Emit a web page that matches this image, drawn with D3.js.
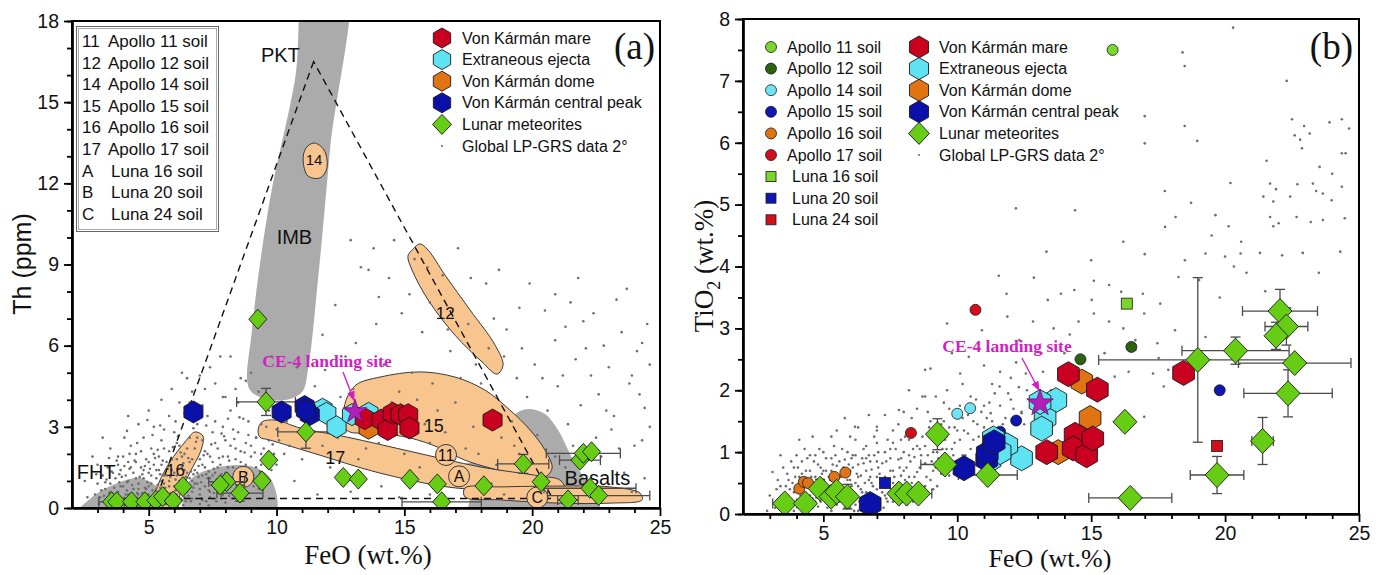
<!DOCTYPE html>
<html>
<head>
<meta charset="utf-8">
<script src="https://cdn.jsdelivr.net/npm/d3@7"></script>
<style>
  body { margin: 0; background: #fff; }
  text { font-family: Arial, "Liberation Sans", sans-serif; fill: #111; }
  .serif { font-family: "Times New Roman", "Liberation Serif", serif; }
</style>
</head>
<body>
<svg id="chart" width="1384" height="575"></svg>
<script>
// ---- shared ----
var feoTicks = [5, 10, 15, 20, 25];
var thTicks = [0, 3, 6, 9, 12, 15, 18];
var tiTicks = [0, 1, 2, 3, 4, 5, 6, 7, 8];

// ---- panel (a): Th vs FeO ----
var mareA = [[13.45,3.3],[14.1,3.25],[14.35,2.9],[14.55,3.5],[14.85,3.45],[15.15,3.45],[15.2,2.96],[18.45,3.25]];
var ejectaA = [[11.8,3.65],[11.95,3.5],[12.35,3.0],[12.95,3.45],[13.6,3.5]];
var domeA = [[13.6,2.95]];
var peakA = [[6.75,3.55],[10.2,3.55],[11.1,3.75],[11.3,3.45],[11.15,3.6]];
// FeO, Th, FeO error, Th error
var meteoritesA = [[9.27,6.98,0,0],[9.59,3.92,1.15,0.5],[11.15,2.81,1.1,0.6],[9.7,1.77,0,0],[9.43,1.0,0,0],
  [8.05,0.97,0.7,0],[7.8,0.85,0,0],[8.57,0.55,0.9,0.3],[6.34,0.79,0,0],[3.55,0.23,0.5,0],[3.75,0.23,0,0],
  [4.33,0.23,0,0],[4.85,0.23,0.3,0],[5.28,0.28,0.4,0],[5.55,0.42,0,0],[5.96,0.26,0,0],[12.61,1.13,0,0],
  [13.2,1.07,0,0],[15.22,1.06,0,0],[16.29,0.89,0,0],[16.46,0.23,1.55,0],[18.11,0.82,0,0],[19.65,1.63,1.0,0.35],
  [20.35,0.97,0,0],[21.4,0.3,0.4,0],[21.87,1.77,0.8,0],[22.0,2.02,1.45,0],[22.32,2.08,0,0],[22.26,0.73,1.8,0],[22.6,0.46,2.0,0]];
var landingA = [13.07, 3.56];

var dotsA = ("3.1,0.4 3.3,0.7 3.4,0.3 3.5,0.9 3.6,0.5 3.7,1.1 3.8,0.6 3.9,0.3 3.9,1.4 4.0,0.8 4.1,0.5 4.2,1.0 4.2,1.7 4.3,0.4 " +
  "4.4,1.3 4.4,0.7 4.5,2.0 4.6,0.9 4.6,0.5 4.7,1.5 4.8,1.1 4.8,0.3 4.9,0.7 4.9,1.8 5.0,1.3 5.0,0.5 5.1,2.2 5.1,0.9 " +
  "5.2,1.6 5.2,0.4 5.3,1.1 5.3,0.7 5.4,1.9 5.4,1.4 5.5,0.5 5.5,2.5 5.6,0.9 5.6,1.2 5.7,1.7 5.7,0.6 5.8,2.1 5.8,1.0 " +
  "5.9,1.4 5.9,0.4 6.0,0.8 6.0,2.8 6.1,1.2 6.1,1.8 6.2,0.6 6.2,2.3 6.3,1.0 6.3,1.5 6.4,0.4 6.4,2.0 6.5,0.8 6.5,1.3 " +
  "6.6,2.6 6.6,1.7 6.7,1.0 6.7,0.6 6.8,1.4 6.8,2.2 6.9,0.9 6.9,3.1 7.0,1.8 7.0,0.5 7.1,1.2 7.1,2.5 7.2,1.5 7.2,0.8 " +
  "7.3,2.0 7.3,3.4 7.4,1.1 7.4,0.4 7.5,1.7 7.5,2.8 7.6,1.3 7.6,0.7 7.7,2.2 7.8,1.0 7.8,1.6 7.9,3.0 7.9,0.5 8.0,1.3 " +
  "8.0,2.5 8.1,1.9 8.2,0.8 8.2,3.6 8.3,1.5 8.4,2.2 8.4,1.1 8.5,2.8 8.6,0.6 8.6,1.7 8.7,1.3 8.8,2.4 8.9,0.9 8.9,3.2 " +
  "9.0,1.9 9.1,1.2 9.2,2.6 9.3,0.7 9.4,1.6 9.5,2.2 9.6,3.0 9.8,1.4 9.9,2.0 10.1,2.5 3.45,0.55 3.65,0.75 3.85,0.95 " +
  "4.05,0.35 4.15,0.65 4.35,0.85 4.55,0.25 4.65,1.15 4.75,0.55 4.95,0.95 5.05,0.25 5.15,0.65 5.35,0.85 5.45,1.25 " +
  "5.55,0.35 5.65,0.75 5.85,0.55 6.05,1.05 6.25,0.35 6.45,1.15 6.55,0.45 6.75,1.25 6.85,0.35 7.05,0.95 7.25,0.25 " +
  "7.45,0.85 7.65,1.05 4.25,1.45 4.85,1.55 5.25,1.85 5.75,1.45 6.35,1.65 6.95,1.55 7.35,1.35 7.85,1.25 3.95,1.15 " +
  "3.55,0.25 3.25,0.45 4.45,0.15 5.75,0.15 6.65,0.25 7.55,0.55 8.15,0.45 8.45,0.75 5.2,3.0 5.8,3.4 6.2,3.9 6.7,4.3 " +
  "7.1,3.8 7.6,4.6 8.0,4.1 8.5,3.9 8.8,4.7 5.5,4.0 4.8,2.6 4.3,2.3 3.8,1.9 9.3,4.3 9.7,3.6 7.4,5.2 6.3,5.0 8.2,5.6 " +
  "2.9,0.5 3.0,0.9 3.2,1.2 3.3,0.2 3.4,1.5 3.5,0.6 3.6,1.3 3.7,0.3 3.8,1.6 3.9,0.8 4.0,1.9 4.0,0.2 4.1,1.2 4.2,0.5 " +
  "4.3,1.5 4.4,0.3 4.5,1.1 4.5,1.7 4.6,0.7 4.7,0.35 4.7,2.1 4.8,1.4 4.9,0.5 5.0,1.7 5.0,0.8 5.1,1.2 5.2,0.2 5.2,2.0 " +
  "5.3,1.4 5.4,0.6 5.5,1.0 5.5,1.6 5.6,0.3 5.6,2.2 5.7,1.2 5.8,0.8 5.9,1.8 5.9,0.25 6.0,1.3 6.1,0.5 6.1,2.4 6.2,1.0 " +
  "6.3,1.9 6.3,0.3 6.4,1.4 6.5,0.6 6.5,2.2 6.6,1.1 6.7,1.8 6.7,0.35 6.8,0.9 6.9,1.3 6.9,2.6 7.0,0.7 7.1,1.6 7.1,0.3 " +
  "7.2,2.1 7.3,1.1 7.4,0.6 7.4,1.9 7.5,1.2 7.6,0.35 7.6,2.4 7.7,1.5 7.8,0.7 7.9,1.9 8.0,0.9 8.1,1.5 8.2,2.3 8.3,0.6 " +
  "8.4,1.8 8.5,1.2 8.6,2.1 8.7,0.9 8.8,1.6 9.0,2.3 9.1,0.8 9.2,1.5 9.4,2.0 9.6,1.0 9.7,2.5 10.0,1.6 10.3,2.0 3.6,0.15 " +
  "4.9,0.15 6.0,0.15 7.0,0.15 8.0,0.2 3.3,0.95 3.75,1.75 4.25,2.0 4.55,2.4 5.15,2.7 5.6,2.9 6.05,3.2 6.4,3.5 6.9,3.6 " +
  "7.6,3.2 8.1,3.3 8.9,2.7 9.4,3.1 4.05,2.6 4.6,3.1 3.5,2.2 3.0,1.6 5.0,3.6 5.9,4.4 6.5,4.8 7.0,4.9 8.4,4.4 9.0,5.0 " +
  "3.2,2.6 2.6,0.4 2.5,1.0 2.8,1.9 4.2,3.4 10.4,3.2 " +
  "3.15,0.65 3.35,1.05 3.55,1.35 3.75,0.45 3.85,1.25 4.05,1.55 4.15,0.95 4.35,0.25 4.45,1.75 4.55,0.55 4.75,1.25 " +
  "4.85,0.75 5.05,1.45 5.15,0.35 5.35,2.15 5.45,0.75 5.55,1.75 5.65,0.45 5.85,1.15 5.95,2.25 6.05,0.65 6.15,1.45 " +
  "6.25,2.05 6.35,0.85 6.45,0.25 6.55,1.85 6.65,1.35 6.75,0.75 6.85,2.45 6.95,1.15 7.05,0.35 7.15,1.95 7.25,1.25 " +
  "7.35,0.65 7.45,2.35 7.55,1.45 7.65,0.25 7.75,1.85 7.85,0.45 7.95,2.65 8.05,1.15 8.15,1.75 8.25,0.35 8.35,2.55 " +
  "8.55,1.45 8.65,0.35 8.75,2.05 8.95,1.25 9.15,2.05 9.35,1.35 9.55,1.75 9.85,2.35 4.15,2.85 4.95,3.25 5.45,3.05 " +
  "6.15,2.65 6.75,2.95 7.25,3.05 7.85,2.75 8.55,3.35 3.45,1.85 2.95,1.25 3.05,0.15 3.85,0.15 4.65,0.15 5.45,0.1 " +
  "6.35,0.1 7.35,0.1 " +
  "12.9,9.9 13.8,9.6 14.6,9.9 13.3,8.9 13.6,8.8 15.4,9.2 16.5,8.6 17.6,8.5 16.0,7.6 17.5,6.8 18.5,7.0 18.2,8.3 " +
  "19.5,7.4 20.5,7.3 21.5,7.6 22.0,6.9 22.8,6.0 23.5,6.5 24.1,5.8 24.3,6.1 23.0,5.2 22.3,4.9 21.7,5.5 20.9,6.2 " +
  "20.1,5.3 19.4,4.8 18.9,5.6 19.8,4.1 21.0,4.5 22.6,4.2 23.8,4.6 24.4,3.7 23.2,3.4 21.9,3.8 20.6,3.6 19.2,3.2 " +
  "18.0,4.6 17.2,4.8 16.8,5.8 15.7,6.5 14.9,7.2 14.0,7.8 12.3,7.5 11.8,6.4 13.1,6.1 14.2,5.3 15.3,5.0 16.1,4.6 " +
  "17.0,3.9 16.3,3.6 17.7,3.0 18.8,2.6 17.4,2.2 16.0,2.4 15.0,2.0 14.0,2.4 13.2,1.8 12.1,1.5 11.0,1.8 10.5,2.3 " +
  "10.0,2.9 11.5,4.5 12.5,4.1 10.8,5.2 9.8,5.6 8.6,4.8 7.8,5.6 7.2,4.4 6.6,3.9 7.9,4.1 8.7,3.3 9.2,2.6 8.3,2.9 " +
  "13.5,2.2 14.5,3.9 15.8,3.1 16.6,2.8 17.9,2.0 18.6,1.6 19.3,2.3 12.4,2.6 11.8,2.3 13.0,4.4 14.8,4.3 15.5,4.0 " +
  "16.8,1.2 18.4,0.9 19.9,0.6 20.5,1.0 21.3,1.5 22.5,2.6 23.1,2.9 24.0,2.3 23.6,1.3 12.9,0.6 14.1,0.8 10.7,1.0 11.6,0.5 " +
  "20.9,7.9 21.3,6.7 22.4,7.2 23.3,7.7 24.5,6.8 24.6,5.3 23.9,4.9 22.1,5.9 21.2,4.9 20.4,4.8 19.6,5.9 19.0,6.6 " +
  "18.3,5.9 17.8,5.3 16.7,6.6 15.2,7.9 14.4,8.5 15.9,8.9 17.1,9.6 18.7,8.8 19.9,8.3 21.8,8.5 23.7,8.1 24.2,4.2 " +
  "22.9,3.6 21.4,3.1 20.2,2.7 19.5,2.0 24.6,3.0 24.3,2.5 23.4,2.2 22.7,1.9 21.6,2.3 20.9,1.9 13.9,6.8 12.7,5.6 " +
  "11.9,5.1 10.9,3.9 12.0,3.0 15.6,1.5 17.2,1.5 16.0,0.5 14.8,0.4 18.9,0.5 23.9,0.6 24.4,1.1")
  .split(" ").map(function(s){ return s.split(",").map(Number); });

// outlines of the fields, in FeO / Th units
var grayIMB = [[11.3,20],[12.7,20],[12.09,13.23],[11.62,8.43],[11.23,5.1],[11.0,4.29],[10.33,3.99],[9.43,4.07],[8.92,4.43],[9.04,6.58],[9.74,11.38],[10.72,15.82]];
var grayBasalts = [[16.79,1.4],[18.63,2.07],[19.02,3.07],[19.45,3.55],[19.92,3.66],[20.5,3.47],[21.01,2.88],[21.56,1.85],[22.18,0.85],[22.65,-0.2],[17.57,-0.2],[17.57,0.67],[16.79,1.11]];
var grayFHT = [[2.23,-0.2],[2.9,0.48],[3.88,0.96],[4.66,1.11],[5.44,0.67],[5.75,-0.2]];
var grayB = [[6.42,-0.2],[6.62,1.03],[7.59,1.48],[8.96,1.55],[9.75,1.11],[9.94,-0.2]];
var field14 = [[11.47,13.49],[11.86,13.23],[11.97,12.56],[11.7,12.2],[11.23,12.27],[11.04,12.86],[11.15,13.3]];
var field12 = [[15.3,9.53],[15.61,9.76],[15.93,9.53],[16.59,8.61],[17.57,7.32],[18.55,6.02],[18.86,5.28],[18.62,4.95],[18.04,5.4],[16.98,6.39],[15.93,7.69],[15.3,8.8],[15.14,9.31]];
var field15 = [[12.6,3.33],[12.72,3.99],[13.11,4.55],[14.05,4.84],[15.61,5.03],[16.98,4.84],[18.15,4.36],[19.13,3.62],[19.92,2.88],[20.5,2.14],[20.78,1.48],[20.5,1.15],[19.52,1.22],[18.35,1.48],[17.37,1.77],[16.39,2.22],[15.22,2.59],[13.85,2.77],[12.87,2.81],[12.56,3.07]];
var field17 = [[9.28,2.88],[9.43,3.18],[9.94,3.25],[10.92,2.96],[12.76,2.62],[15.34,2.07],[17.96,1.52],[20.31,1.18],[21.09,1.03],[21.28,0.67],[20.31,0.44],[19.25,0.59],[16.67,0.78],[14.05,1.29],[11.43,2.03],[9.75,2.51],[9.35,2.62]];
var field16 = [[5.05,-0.2],[5.36,0.85],[5.83,1.7],[6.42,2.44],[6.81,2.81],[7.12,2.66],[7.05,2.14],[6.62,1.33],[6.22,0.48],[6.03,-0.2]];
var fieldC = [[17.37,0.74],[18.74,0.78],[21.09,0.81],[23.04,0.78],[24.22,0.55],[24.3,0.3],[23.04,0.18],[21.09,0.18],[18.74,0.3],[17.37,0.41]];
var triangleA = [[11.45,16.5],[5.3,0.35],[20.8,0.35]];
var fieldLabelsA = [["14",11.47,12.86,15],["12",16.6,7.2,17],["15",16.15,3.05,18],["17",12.3,1.85,18],["16",6.05,1.4,17]];
var circleLabelsA = [["11",16.63,1.96],["A",17.14,1.17],["B",8.7,1.15],["C",20.2,0.39]];
var textLabelsA = [["PKT",10.15,16.75],["IMB",10.7,10.0],["FHT",2.95,1.32],["Basalts",22.55,1.1]];

var legendSoilsA = [["11","Apollo 11 soil"],["12","Apollo 12 soil"],["14","Apollo 14 soil"],["15","Apollo 15 soil"],
  ["16","Apollo 16 soil"],["17","Apollo 17 soil"],["A","Luna 16 soil"],["B","Luna 20 soil"],["C","Luna 24 soil"]];

// ---- panel (b): TiO2 vs FeO ----
var apollo11 = [[15.8,7.5]];
var apollo12 = [[14.6,2.5],[16.5,2.7]];
var apollo14 = [[10.0,1.62],[10.48,1.71]];
var apollo15 = [[12.2,1.51],[11.6,1.33],[19.8,2.0],[13.1,1.3]];
var apollo16 = [[4.1,0.41],[4.27,0.52],[4.43,0.5],[5.41,0.6],[5.82,0.67]];
var apollo17 = [[10.68,3.3],[8.27,1.31]];
var luna16 = [[16.33,3.4]];
var luna20 = [[7.3,0.5]];
var luna24 = [[19.7,1.1]];
var mareB = [[14.15,2.26],[15.23,2.01],[18.45,2.28],[13.34,1.0],[14.4,1.28],[14.33,1.06],[14.83,0.95],[15.06,1.22]];
var domeB = [[14.65,2.14],[14.96,1.55],[13.77,1.0]];
var ejectaB = [[13.68,1.84],[13.28,1.55],[13.15,1.38],[13.09,1.81],[12.4,0.9],[11.85,1.11],[11.35,1.22],[11.22,0.87],[11.6,1.0]];
var peakB = [[6.75,0.16],[10.25,0.74],[11.1,0.88],[11.12,0.98],[11.38,1.16]];
var meteoritesB = [[3.56,0.17,0.45,0],[4.33,0.17,0,0],[4.88,0.41,0,0.15],[5.29,0.28,0,0],[5.5,0.36,0,0],[5.9,0.28,0,0.2],
  [7.82,0.33,0.3,0],[8.11,0.33,0,0],[8.55,0.33,0.5,0],[9.26,1.29,0,0.25],[9.54,0.8,0.9,0],[11.14,0.63,1.1,0],
  [16.26,1.49,0,0.12],[16.46,0.26,1.55,0],[18.98,2.49,3.7,1.33],[19.7,0.63,1.0,0.3],[20.39,2.64,2.0,0.22],
  [21.4,1.18,0.4,0.38],[22.05,3.28,1.4,0.35],[22.29,3.03,0.8,0.3],[21.9,2.88,0,0.22],[22.6,2.44,2.1,0.1],[22.35,1.95,1.65,0.38]];
var landingB = [13.09, 1.79];

var dotsB = ("3.1,0.68 3.3,0.2 3.4,0.45 3.5,0.1 3.6,0.32 3.7,0.55 3.8,0.2 3.9,0.75 3.9,0.05 4.0,0.4 4.1,0.6 4.1,0.15 " +
  "4.2,0.85 4.3,0.3 4.3,0.5 4.4,0.08 4.5,0.7 4.5,0.95 4.6,0.25 4.6,0.45 4.7,0.6 4.8,0.12 4.8,0.8 4.9,0.35 5.0,1.0 " +
  "5.0,0.55 5.1,0.2 5.1,0.7 5.2,0.42 5.3,0.9 5.3,0.05 5.4,0.3 5.4,0.62 5.5,0.78 5.5,0.15 5.6,0.48 5.7,1.05 5.7,0.25 " +
  "5.8,0.65 5.8,0.88 5.9,0.38 6.0,0.1 6.0,0.55 6.1,0.75 6.2,0.28 6.2,0.95 6.3,0.45 6.4,0.62 6.4,0.12 6.5,0.82 " +
  "6.6,0.35 6.6,1.1 6.7,0.55 6.8,0.22 6.8,0.72 6.9,0.95 7.0,0.4 7.0,0.6 7.1,0.15 7.2,0.82 7.3,1.0 7.3,0.3 7.4,0.55 " +
  "7.5,0.7 7.6,0.2 7.6,1.15 7.7,0.45 7.8,0.88 7.9,0.62 8.0,1.0 8.0,0.35 8.1,0.75 8.2,1.2 8.3,0.5 8.4,0.92 8.5,0.68 " +
  "8.6,1.05 8.7,0.25 8.8,0.82 8.9,1.3 9.0,0.55 9.1,1.0 9.2,0.75 9.3,1.15 9.4,1.45 9.5,0.9 9.6,1.25 9.7,0.62 9.8,1.05 " +
  "9.9,1.4 10.0,0.85 10.1,1.2 10.2,1.55 10.3,0.95 10.4,1.3 10.5,1.05 10.6,1.5 10.7,0.8 10.8,1.25 10.9,1.65 11.0,1.4 " +
  "11.2,1.8 11.3,1.5 11.5,1.3 11.6,1.75 11.8,1.55 12.0,1.85 12.2,1.2 12.4,1.65 12.6,2.0 12.8,1.4 3.45,0.3 3.75,0.4 " +
  "3.95,0.6 4.15,0.3 4.35,0.7 4.45,0.2 4.65,0.85 4.75,0.4 4.95,0.65 5.05,0.3 5.25,0.55 5.35,0.8 5.45,0.45 5.65,0.6 " +
  "5.75,0.35 5.95,0.8 6.05,0.45 6.25,0.65 6.35,0.2 6.45,0.9 6.55,0.5 6.75,0.85 6.85,0.45 7.05,0.75 7.15,0.5 7.35,0.85 " +
  "7.45,0.35 7.65,0.6 7.85,0.75 8.05,0.55 8.25,0.85 8.45,0.45 8.65,0.95 8.85,0.6 9.05,0.85 9.25,0.45 9.45,1.05 " +
  "9.65,0.8 9.85,0.95 4.25,0.05 5.15,0.1 6.15,0.05 7.25,0.1 8.35,0.2 5.5,1.35 6.3,1.4 7.0,1.35 7.8,1.45 8.5,1.7 " +
  "9.2,1.9 8.2,2.0 9.0,2.35 9.8,2.6 " +
  "3.2,0.1 3.3,0.55 3.5,0.75 3.6,0.45 3.7,0.1 3.8,0.85 3.9,0.35 4.0,0.95 4.0,0.2 4.2,0.4 4.2,0.65 4.3,1.05 4.4,0.55 " +
  "4.5,0.3 4.6,0.1 4.7,0.95 4.8,0.5 4.9,0.2 4.9,0.75 5.0,0.4 5.1,0.9 5.2,0.6 5.2,0.15 5.3,0.35 5.4,1.1 5.5,0.6 5.6,0.2 " +
  "5.6,0.85 5.7,0.45 5.8,0.1 5.9,1.0 6.0,0.7 6.0,0.3 6.1,0.95 6.2,0.5 6.3,0.8 6.3,0.05 6.4,0.4 6.5,1.05 6.5,0.25 " +
  "6.6,0.7 6.7,0.15 6.7,0.95 6.8,0.5 6.9,0.3 7.0,0.85 7.0,1.15 7.1,0.65 7.2,0.35 7.3,0.6 7.4,1.2 7.4,0.2 7.5,0.9 " +
  "7.6,0.5 7.7,1.05 7.8,0.3 7.9,1.2 8.0,0.7 8.1,0.15 8.2,0.95 8.3,1.35 8.4,0.6 8.5,1.1 8.6,0.35 8.7,1.25 8.8,0.45 " +
  "8.9,0.95 9.0,1.5 9.1,0.7 9.2,1.2 9.3,0.9 9.5,1.5 9.6,1.05 9.7,1.7 9.8,0.75 10.0,1.35 10.1,1.75 10.2,0.95 10.4,1.6 " +
  "10.6,1.2 10.7,1.85 10.9,1.1 11.1,1.55 11.4,1.95 11.7,1.45 12.1,1.7 12.5,1.45 12.9,1.9 13.2,2.3 12.3,2.05 3.0,0.3 " +
  "2.9,0.05 3.4,0.95 4.1,1.2 4.6,1.25 5.3,1.25 6.0,1.25 5.8,1.55 6.7,1.6 7.3,1.6 8.0,1.65 8.7,1.9 " +
  "3.25,0.4 3.55,0.2 3.65,0.65 3.85,0.5 4.05,0.75 4.25,0.2 4.4,0.9 4.55,0.6 4.7,0.2 4.85,1.05 5.0,0.7 5.2,0.3 5.3,0.7 " +
  "5.45,0.95 5.6,0.4 5.75,0.75 5.9,0.55 6.05,0.9 6.2,0.15 6.3,0.6 6.45,0.35 6.6,0.9 6.75,0.6 6.9,0.1 7.05,1.0 7.2,0.55 " +
  "7.35,0.25 7.5,1.05 7.6,0.7 7.75,0.4 7.9,0.9 8.05,1.25 8.2,0.6 8.35,1.05 8.5,0.3 8.6,0.75 8.8,1.1 8.95,1.4 9.1,0.4 " +
  "9.25,1.0 9.4,0.65 9.55,1.2 9.7,1.4 9.9,1.15 10.05,1.55 10.25,1.35 10.5,1.65 10.75,1.45 11.0,1.75 11.3,2.1 11.6,2.3 " +
  "11.9,1.95 12.2,2.45 10.2,2.1 9.5,1.8 8.9,1.65 8.3,1.55 7.6,1.35 6.9,1.25 6.2,1.2 " +
  "20.3,7.86 18.41,7.46 18.49,7.24 22.3,7.0 17.0,6.43 18.49,6.27 18.96,6.03 17.0,5.99 " +
  "22.5,6.38 22.95,6.27 23.16,6.15 23.9,6.33 24.36,6.38 24.63,6.23 22.6,6.12 22.8,6.05 22.87,5.91 24.36,5.83 24.5,5.83 " +
  "23.53,5.61 21.55,5.71 20.2,5.35 21.68,5.34 21.9,5.25 22.7,5.33 23.28,5.34 23.4,5.22 23.65,5.18 24.36,5.29 23.98,5.07 " +
  "17.75,5.22 18.73,5.03 12.19,4.94 14.4,4.91 21.43,5.13 21.8,5.05 22.43,5.13 18.15,4.8 19.64,4.83 20.13,4.65 17.76,4.64 " +
  "21.68,4.8 21.8,4.65 22.0,4.7 22.67,4.8 23.65,4.75 24.47,4.78 23.2,4.72 13.33,4.24 11.55,3.85 12.86,3.82 11.84,3.56 " +
  "13.87,3.56 13.38,3.46 15.1,3.77 14.37,3.62 15.67,3.7 16.12,3.59 16.93,3.56 17.58,3.4 16.98,3.24 15.67,3.11 16.65,2.81 " +
  "17.47,2.76 18.13,2.97 18.26,3.83 19.03,3.78 19.27,4.21 20.0,4.16 20.33,4.0 20.58,4.21 21.3,4.22 22.13,4.18 22.9,4.22 " +
  "24.3,4.24 19.27,2.86 17.52,2.52 18.37,2.38 17.71,2.06 16.98,1.57 15.88,2.22 15.1,3.24 13.14,2.6 12.32,2.81 11.87,3.19 " +
  "12.83,3.11 10.92,2.97 10.43,2.54 10.11,2.27 9.62,2.0 8.8,1.9 9.62,3.08 8.8,2.33 7.82,1.68 7.0,1.41 6.18,1.41 " +
  "11.58,2.06 11.25,1.63 12.4,1.63 12.56,2.27 16.65,2.65 15.02,3.46 14.53,3.11 17.88,2.33 17.31,2.27 14.2,2.9 13.6,3.0 " +
  "15.5,2.6 16.2,3.0 19.8,3.5 20.8,3.9 21.5,3.6 23.5,3.9 17.0,4.2 16.2,4.4 15.0,4.1 14.0,2.6 12.0,2.2 11.0,2.4 10.5,1.9 " +
  "9.9,1.6 13.5,2.0 16.4,2.3 20.6,4.4 19.5,4.5 24.0,5.5 18.5,4.1")
  .split(" ").map(function(s){ return s.split(",").map(Number); });

// ---- colours ----
var cMare = "#c9001f", cEjecta = "#5fe2f2", cDome = "#e07413", cPeak = "#0b10a8", cMeteor = "#66cc14";
var cStar = "#b21fba", cLabel = "#d21fc3", cField = "#f9c58f", cGray = "#ababab", cDot = "#6e6e6e";

var svg = d3.select("#chart");
svg.append("rect").attr("width", 1384).attr("height", 575).attr("fill", "#fff");

function hexPath(r) {
  var pts = d3.range(6).map(function(i){ var a = Math.PI / 3 * i - Math.PI / 2; return [r * Math.cos(a), r * Math.sin(a)]; });
  return "M" + pts.join("L") + "Z";
}
function diamondPath(w, h) {
  return "M0," + (-h) + "L" + w + ",0L0," + h + "L" + (-w) + ",0Z";
}

function drawAxes(g, x, y, yMajor, yMinor, xl, yt, yb, xr) {
  var minorX = d3.range(3, 25, 1).filter(function(v){ return v % 5 != 0; });
  g.append("g").attr("transform", "translate(0," + yb + ")")
    .call(d3.axisBottom(x).tickValues(minorX).tickSize(5).tickSizeOuter(0).tickFormat(""));
  g.append("g").attr("transform", "translate(0," + yb + ")")
    .call(d3.axisBottom(x).tickValues(feoTicks).tickSize(8).tickSizeOuter(0).tickPadding(4));
  g.append("g").attr("transform", "translate(" + xl + ",0)")
    .call(d3.axisLeft(y).tickValues(yMinor).tickSize(5).tickSizeOuter(0).tickFormat(""));
  g.append("g").attr("transform", "translate(" + xl + ",0)")
    .call(d3.axisLeft(y).tickValues(yMajor).tickSize(8).tickSizeOuter(0).tickPadding(5));
  g.selectAll(".domain").attr("stroke", "#000").attr("stroke-width", 2.2);
  g.selectAll(".tick line").attr("stroke", "#000").attr("stroke-width", 1.8);
  g.selectAll(".tick text").attr("font-size", 19.5).attr("fill", "#111")
    .attr("font-family", "Arial, 'Liberation Sans', sans-serif");
  g.append("rect").attr("x", xl).attr("y", yt).attr("width", xr - xl).attr("height", yb - yt)
    .attr("fill", "none").attr("stroke", "#000").attr("stroke-width", 2);
}

function drawErrors(g, data, x, y) {
  var eg = g.append("g").attr("stroke", "#4a4a4a").attr("stroke-width", 1.3);
  data.forEach(function(d){
    if (d[2] > 0) {
      var x0 = x(d[0] - d[2]), x1 = x(d[0] + d[2]), yy = y(d[1]);
      eg.append("line").attr("x1", x0).attr("x2", x1).attr("y1", yy).attr("y2", yy);
      eg.append("line").attr("x1", x0).attr("x2", x0).attr("y1", yy - 5).attr("y2", yy + 5);
      eg.append("line").attr("x1", x1).attr("x2", x1).attr("y1", yy - 5).attr("y2", yy + 5);
    }
    if (d[3] > 0) {
      var y0 = y(d[1] - d[3]), y1 = y(d[1] + d[3]), xx = x(d[0]);
      eg.append("line").attr("x1", xx).attr("x2", xx).attr("y1", y0).attr("y2", y1);
      eg.append("line").attr("x1", xx - 5).attr("x2", xx + 5).attr("y1", y0).attr("y2", y0);
      eg.append("line").attr("x1", xx - 5).attr("x2", xx + 5).attr("y1", y1).attr("y2", y1);
    }
  });
}

function drawShapes(g, data, x, y, path, fill) {
  g.append("g").selectAll("path").data(data).enter().append("path")
    .attr("d", path)
    .attr("transform", function(d){ return "translate(" + x(d[0]) + "," + y(d[1]) + ")"; })
    .attr("fill", fill).attr("stroke", "#1a1a1a").attr("stroke-width", 0.9);
}

function drawDots(g, data, x, y) {
  g.append("g").selectAll("circle").data(data).enter().append("circle")
    .attr("cx", function(d){ return x(d[0]); }).attr("cy", function(d){ return y(d[1]); })
    .attr("r", 1.3).attr("fill", cDot);
}

function drawLanding(g, p, x, y, rOuter, tx, ty, ax0, ay0) {
  var px = x(p[0]), py = y(p[1]);
  g.append("text").attr("class", "serif").attr("x", tx).attr("y", ty).attr("text-anchor", "middle")
    .attr("font-size", 17.5).attr("font-weight", "bold").style("fill", cLabel).text("CE-4 landing site");
  g.append("line").attr("x1", ax0).attr("y1", ay0).attr("x2", px - 1).attr("y2", py - rOuter + 1)
    .attr("stroke", cLabel).attr("stroke-width", 1.4).attr("marker-end", "url(#arrow)");
  g.append("path").attr("d", d3.symbol(d3.symbolStar, rOuter * rOuter / 0.8908)())
    .attr("transform", "translate(" + px + "," + py + ")")
    .attr("fill", cStar).attr("stroke", "#6a0f70").attr("stroke-width", 0.8);
}

var defs = svg.append("defs");
defs.append("marker").attr("id", "arrow").attr("viewBox", "0 0 10 10").attr("refX", 9).attr("refY", 5)
  .attr("markerWidth", 7).attr("markerHeight", 7).attr("orient", "auto")
  .append("path").attr("d", "M0,1L10,5L0,9Z").attr("fill", cLabel);

// ================= panel (a) =================
var xA = d3.scaleLinear().domain([2, 25]).range([72, 660]);
var yA = d3.scaleLinear().domain([0, 18]).range([508, 21]);
defs.append("clipPath").attr("id", "clipA").append("rect").attr("x", 72).attr("y", 21).attr("width", 588).attr("height", 487);

var gA = svg.append("g");
var plotA = gA.append("g").attr("clip-path", "url(#clipA)");
var fieldLineA = d3.line().x(function(d){ return xA(d[0]); }).y(function(d){ return yA(d[1]); })
  .curve(d3.curveCatmullRomClosed.alpha(0.5));

[grayIMB, grayBasalts, grayFHT, grayB].forEach(function(f){
  plotA.append("path").attr("d", fieldLineA(f)).attr("fill", cGray).attr("stroke", "none");
});
[field14, field12, field15, field17, field16, fieldC].forEach(function(f){
  plotA.append("path").attr("d", fieldLineA(f)).attr("fill", cField).attr("stroke", "#3a3a3a").attr("stroke-width", 1);
});
drawDots(plotA, dotsA, xA, yA);
plotA.append("path").attr("d", d3.line().x(function(d){ return xA(d[0]); }).y(function(d){ return yA(d[1]); })
  .curve(d3.curveLinearClosed)(triangleA))
  .attr("fill", "none").attr("stroke", "#111").attr("stroke-width", 1.4).attr("stroke-dasharray", "7,5");

fieldLabelsA.forEach(function(l){
  plotA.append("text").attr("x", xA(l[1])).attr("y", yA(l[2])).attr("dy", "0.35em")
    .attr("text-anchor", "middle").attr("font-size", l[3]).text(l[0]);
});
circleLabelsA.forEach(function(l){
  plotA.append("circle").attr("cx", xA(l[1])).attr("cy", yA(l[2])).attr("r", 10.5)
    .attr("fill", cField).attr("stroke", "#3a3a3a").attr("stroke-width", 1);
  plotA.append("text").attr("x", xA(l[1])).attr("y", yA(l[2])).attr("dy", "0.36em")
    .attr("text-anchor", "middle").attr("font-size", 16).text(l[0]);
});
textLabelsA.forEach(function(l){
  plotA.append("text").attr("x", xA(l[1])).attr("y", yA(l[2])).attr("dy", "0.35em")
    .attr("text-anchor", "middle").attr("font-size", 20).text(l[0]);
});

drawErrors(plotA, meteoritesA, xA, yA);
drawShapes(plotA, ejectaA, xA, yA, hexPath(11), cEjecta);
drawShapes(plotA, domeA, xA, yA, hexPath(11), cDome);
drawShapes(plotA, mareA, xA, yA, hexPath(11), cMare);
drawShapes(plotA, peakA, xA, yA, hexPath(11), cPeak);
drawShapes(plotA, meteoritesA, xA, yA, diamondPath(9, 10), cMeteor);
drawLanding(gA, landingA, xA, yA, 12.5, 327, 367, 343, 372);

drawAxes(gA, xA, yA, thTicks, d3.range(0, 19, 1), 72, 21, 508, 660);
gA.append("text").attr("class", "serif").attr("x", 368).attr("y", 564).attr("text-anchor", "middle")
  .attr("font-size", 27).text("FeO (wt.%)");
gA.append("text").attr("transform", "translate(31,264) rotate(-90)").attr("text-anchor", "middle")
  .attr("font-size", 25).text("Th (ppm)");
gA.append("text").attr("class", "serif").attr("x", 655).attr("y", 59).attr("text-anchor", "end")
  .attr("font-size", 37).text("(a)");

// legend (a), left box
var lgA = gA.append("g");
lgA.append("rect").attr("x", 76.5).attr("y", 26.5).attr("width", 142).attr("height", 205)
  .attr("fill", "#fff").attr("stroke", "#666").attr("stroke-width", 1);
lgA.append("rect").attr("x", 78.5).attr("y", 28.5).attr("width", 138).attr("height", 201)
  .attr("fill", "none").attr("stroke", "#aaa").attr("stroke-width", 1);
legendSoilsA.forEach(function(d, i){
  var yy = 41 + i * 21.6;
  lgA.append("text").attr("x", 82).attr("y", yy).attr("dy", "0.35em").attr("font-size", 17).text(d[0]);
  lgA.append("text").attr("x", isNaN(+d[0]) ? 111 : 108).attr("y", yy).attr("dy", "0.35em").attr("font-size", 17).text(d[1]);
});

// legend (a), right
var legendMarksA = [["Von Kármán mare", "hex", cMare], ["Extraneous ejecta", "hex", cEjecta], ["Von Kármán dome", "hex", cDome],
  ["Von Kármán central peak", "hex", cPeak], ["Lunar meteorites", "dia", cMeteor], ["Global LP-GRS data 2°", "dot", cDot]];
function legendMarks(g, items, sx, tx, y0, step, rHex) {
  items.forEach(function(d, i){
    var yy = y0 + i * step;
    if (d[1] == "hex") g.append("path").attr("d", hexPath(rHex)).attr("transform", "translate(" + sx + "," + yy + ")")
      .attr("fill", d[2]).attr("stroke", "#1a1a1a").attr("stroke-width", 0.9);
    if (d[1] == "dia") g.append("path").attr("d", diamondPath(rHex * 0.95, rHex)).attr("transform", "translate(" + sx + "," + yy + ")")
      .attr("fill", d[2]).attr("stroke", "#1a1a1a").attr("stroke-width", 0.9);
    if (d[1] == "dot") g.append("circle").attr("cx", sx).attr("cy", yy).attr("r", 1.1).attr("fill", d[2]);
    if (d[1] == "circle") g.append("circle").attr("cx", sx).attr("cy", yy).attr("r", 5.5)
      .attr("fill", d[2]).attr("stroke", "#1a1a1a").attr("stroke-width", 0.8);
    if (d[1] == "square") g.append("rect").attr("x", sx - 5).attr("y", yy - 5).attr("width", 10).attr("height", 10)
      .attr("fill", d[2]).attr("stroke", "#1a1a1a").attr("stroke-width", 0.8);
    g.append("text").attr("x", tx + (d[1] == "square" ? 5 : 0)).attr("y", yy).attr("dy", "0.35em").attr("font-size", 16).text(d[0]);
  });
}
legendMarks(gA, legendMarksA, 442, 462, 38, 21.6, 10);

// ================= panel (b) =================
var xB = d3.scaleLinear().domain([2, 25]).range([743, 1359]);
var yB = d3.scaleLinear().domain([0, 8]).range([514, 19]);
defs.append("clipPath").attr("id", "clipB").append("rect").attr("x", 743).attr("y", 19).attr("width", 616).attr("height", 495);
var gB = svg.append("g");
var plotB = gB.append("g").attr("clip-path", "url(#clipB)");

drawDots(plotB, dotsB, xB, yB);
drawErrors(plotB, meteoritesB, xB, yB);
function drawCircles(data, fill) {
  plotB.append("g").selectAll("circle").data(data).enter().append("circle")
    .attr("cx", function(d){ return xB(d[0]); }).attr("cy", function(d){ return yB(d[1]); })
    .attr("r", 5.5).attr("fill", fill).attr("stroke", "#1a1a1a").attr("stroke-width", 0.8);
}
function drawSquares(data, fill) {
  plotB.append("g").selectAll("rect").data(data).enter().append("rect")
    .attr("x", function(d){ return xB(d[0]) - 5.5; }).attr("y", function(d){ return yB(d[1]) - 5.5; })
    .attr("width", 11).attr("height", 11).attr("fill", fill).attr("stroke", "#1a1a1a").attr("stroke-width", 0.8);
}
var cA11 = "#7bd62c", cA12 = "#2b6210", cA14 = "#6ee4f4", cA15 = "#0e16b4", cA16 = "#df7412", cA17 = "#cf0f1c";
drawCircles(apollo11, cA11); drawCircles(apollo12, cA12); drawCircles(apollo14, cA14);
drawCircles(apollo15, cA15); drawCircles(apollo16, cA16); drawCircles(apollo17, cA17);
drawSquares(luna16, cA11); drawSquares(luna20, cA15); drawSquares(luna24, cA17);
drawShapes(plotB, ejectaB, xB, yB, hexPath(12.5), cEjecta);
drawShapes(plotB, domeB, xB, yB, hexPath(12.5), cDome);
drawShapes(plotB, mareB, xB, yB, hexPath(12.5), cMare);
drawShapes(plotB, peakB, xB, yB, hexPath(12.5), cPeak);
drawShapes(plotB, meteoritesB, xB, yB, diamondPath(12, 12.5), cMeteor);
drawLanding(gB, landingB, xB, yB, 14, 1007, 352, 1022, 358);

drawAxes(gB, xB, yB, tiTicks, d3.range(0, 8.01, 0.5), 743, 19, 514, 1359);
gB.append("text").attr("class", "serif").attr("x", 1050).attr("y", 567).attr("text-anchor", "middle")
  .attr("font-size", 26).text("FeO (wt.%)");
var tiLab = gB.append("text").attr("class", "serif").attr("transform", "translate(713,266) rotate(-90)")
  .attr("text-anchor", "middle").attr("font-size", 27);
tiLab.append("tspan").text("TiO");
tiLab.append("tspan").attr("font-size", 18).attr("dy", 7).text("2");
tiLab.append("tspan").attr("dy", -7).text(" (wt.%)");
gB.append("text").attr("class", "serif").attr("x", 1353).attr("y", 59).attr("text-anchor", "end")
  .attr("font-size", 37).text("(b)");

var legendSoilsB = [["Apollo 11 soil", "circle", cA11], ["Apollo 12 soil", "circle", cA12], ["Apollo 14 soil", "circle", cA14],
  ["Apollo 15 soil", "circle", cA15], ["Apollo 16 soil", "circle", cA16], ["Apollo 17 soil", "circle", cA17],
  ["Luna 16 soil", "square", cA11], ["Luna 20 soil", "square", cA15], ["Luna 24 soil", "square", cA17]];
legendMarks(gB, legendSoilsB, 771, 787, 47, 21.6, 10);
legendMarks(gB, legendMarksA, 919, 939, 47, 21.6, 11);
</script>
</body>
</html>
